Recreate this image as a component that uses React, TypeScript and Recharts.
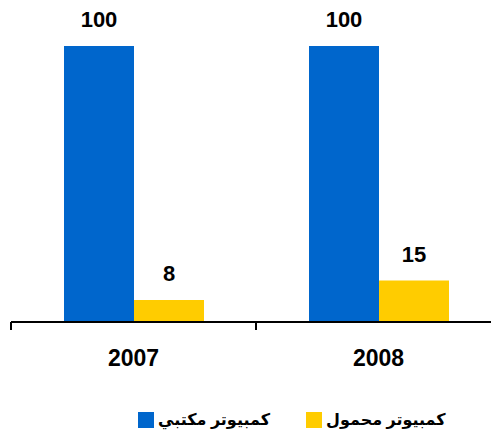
import { Bar, BarChart, LabelList, Legend, XAxis, YAxis } from 'recharts'

const years = ['2007', '2008']
const desktop = [100, 100]
const laptop = [8, 15]
const seriesNames = ['كمبيوتر مكتبي', 'كمبيوتر محمول']
const colors = ['#0066CC', '#FFCC00']

const data = years.map((year, i) => ({ year, desktop: desktop[i], laptop: laptop[i] }))

const font = '"Liberation Sans", Arial, "DejaVu Sans", sans-serif'

const YearTick = (props: any) => {
  const { x, y, payload, index } = props
  const half = payload && payload.offset ? payload.offset : 122.5
  return (
    <g>
      <line x1={x - half} y1={y - 8} x2={x - half} y2={y} stroke="#000" strokeWidth={2} />
      {index === years.length - 1 && (
        <line x1={x + half} y1={y - 8} x2={x + half} y2={y} stroke="#000" strokeWidth={2} />
      )}
      <text x={x} y={y + 36} textAnchor="middle" fontSize={23} fontWeight="bold" fill="#000" fontFamily={font}>
        {payload.value}
      </text>
    </g>
  )
}

const LegendBox = () => (
  <div style={{ display: 'flex', alignItems: 'center', fontFamily: font, fontWeight: 'bold', fontSize: 16 }}>
    {seriesNames.map((name, i) => (
      <div key={name} style={{ display: 'flex', alignItems: 'center', marginRight: 36 }}>
        <span style={{ width: 16, height: 16, background: colors[i], display: 'inline-block' }} />
        <span style={{ marginLeft: 4 }}>{name}</span>
      </div>
    ))}
  </div>
)

export default function App() {
  return (
    <div style={{ position: 'fixed', left: 0, top: 0, width: 491, height: 434, overflow: 'hidden', background: '#fff' }}>
      <BarChart
        width={520}
        height={434}
        data={data}
        margin={{ top: 46, right: 19, bottom: 20, left: 11 }}
        barGap={0}
      >
        <XAxis
          dataKey="year"
          axisLine={{ stroke: '#000', strokeWidth: 2 }}
          tickLine={false}
          tick={<YearTick />}
          height={60}
          interval={0}
        />
        <YAxis hide domain={[0, 100]} />
        <Legend
          height={32}
          content={<LegendBox />}
          wrapperStyle={{ position: 'absolute', top: 410, left: 138, width: 'auto' }}
        />
        <Bar dataKey="desktop" name={seriesNames[0]} fill={colors[0]} barSize={70} isAnimationActive={false}>
          <LabelList dataKey="desktop" position="top" offset={19} fontSize={22} fontWeight="bold" fill="#000" fontFamily={font} />
        </Bar>
        <Bar dataKey="laptop" name={seriesNames[1]} fill={colors[1]} barSize={70} isAnimationActive={false}>
          <LabelList dataKey="laptop" position="top" offset={19} fontSize={22} fontWeight="bold" fill="#000" fontFamily={font} />
        </Bar>
      </BarChart>
    </div>
  )
}
